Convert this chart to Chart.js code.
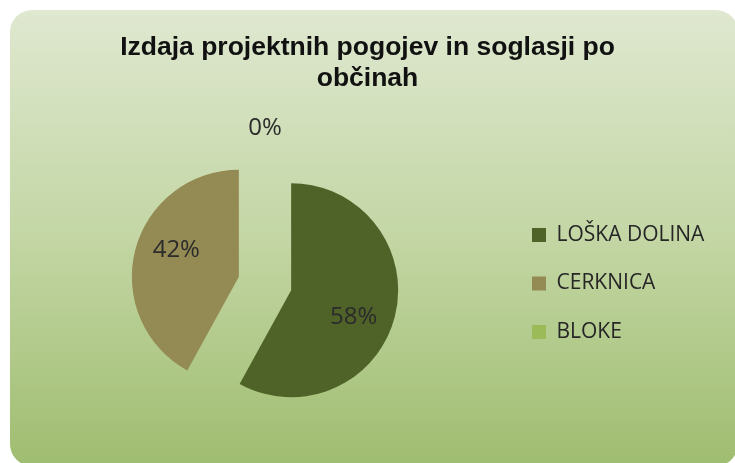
<!DOCTYPE html>
<html>
<head>
<meta charset="utf-8">
<title>Izdaja projektnih pogojev in soglasji po občinah</title>
<script src="https://cdn.jsdelivr.net/npm/chart.js@4.4.0/dist/chart.umd.min.js"></script>
<style>
  html, body { margin: 0; padding: 0; background: #fff; }
  #pieChart { display: block; }
</style>
</head>
<body>
<canvas id="pieChart" width="735" height="463"></canvas>
<script>
// podatki
const obcine = ["LOŠKA DOLINA", "CERKNICA", "BLOKE"];
const deleži = [58, 42, 0];
const barve = ["#4f6228", "#948a54", "#9bbb59"];
const naslov = ["Izdaja projektnih pogojev in soglasji po", "občinah"];

const EXPLODE = 27; // razmik izvlečenih kosov
const LABEL_TURN = 0.15;

// ozadje: zaobljen okvir z zelenim prelivom
const backgroundPlugin = {
  id: "ozadje",
  beforeDraw: (chart) => {
    const { ctx, width, height } = chart;
    ctx.save();
    ctx.fillStyle = "#ffffff";
    ctx.fillRect(0, 0, width, height);
    const grad = ctx.createLinearGradient(0, 10, 0, 466);
    grad.addColorStop(0, "#dfe8d0");
    grad.addColorStop(0.5, "#c3d6a4");
    grad.addColorStop(1, "#9fbd70");
    ctx.fillStyle = grad;
    ctx.beginPath();
    ctx.roundRect(10, 10, 728, 456, 22);
    ctx.fill();
    ctx.restore();
  },
};

// izvlečeni kosi (explode)
const explodePlugin = {
  id: "explode",
  beforeDatasetDraw: (chart, args) => {
    const ctx = chart.ctx;
    args.meta.data.forEach((arc) => {
      const mid = (arc.startAngle + arc.endAngle) / 2;
      ctx.save();
      ctx.translate(Math.cos(mid) * EXPLODE, Math.sin(mid) * EXPLODE);
      arc.draw(ctx);
      ctx.restore();
    });
    return false;
  },
};

// odstotki na kosih
const percentPlugin = {
  id: "odstotki",
  afterDatasetsDraw: (chart) => {
    const ctx = chart.ctx;
    const meta = chart.getDatasetMeta(0);
    const values = chart.data.datasets[0].data;
    const total = values.reduce((a, b) => a + b, 0);
    ctx.save();
    ctx.font = '24px "Open Sans", sans-serif';
    ctx.fillStyle = "#2b2b2b";
    ctx.textAlign = "center";
    ctx.textBaseline = "middle";
    meta.data.forEach((arc, i) => {
      const mid = (arc.startAngle + arc.endAngle) / 2;
      let x, y;
      if (values[i] === 0) {
        const dist = arc.outerRadius + 48;
        x = arc.x + Math.cos(mid) * dist;
        y = arc.y + Math.sin(mid) * dist;
      } else {
        const a = mid + LABEL_TURN;
        const dist = arc.outerRadius * 0.635;
        x = arc.x + Math.cos(mid) * EXPLODE + Math.cos(a) * dist;
        y = arc.y + Math.sin(mid) * EXPLODE + Math.sin(a) * dist;
      }
      ctx.fillText(Math.round((values[i] / total) * 100) + "%", x, y);
    });
    ctx.restore();
  },
};

new Chart(document.getElementById("pieChart"), {
  type: "pie",
  data: {
    labels: obcine,
    datasets: [
      {
        data: deleži,
        backgroundColor: barve,
        borderWidth: 0,
        radius: 107,
      },
    ],
  },
  options: {
    responsive: false,
    animation: false,
    layout: { padding: { left: 25.5, right: 25.5, top: 0, bottom: 0 } },
    plugins: {
      title: {
        display: true,
        text: naslov,
        color: "#111111",
        font: {
          family: '"Liberation Sans", Arial, sans-serif',
          size: 26.5,
          weight: "bold",
          lineHeight: 31 / 26.5,
        },
        padding: { top: 32, bottom: 10 },
      },
      legend: {
        position: "right",
        align: "center",
        fullSize: false,
        maxWidth: 205,
        labels: {
          boxWidth: 14,
          boxHeight: 14,
          padding: 27.5,
          color: "#262626",
          font: { family: '"Open Sans", sans-serif', size: 21 },
        },
      },
      tooltip: { enabled: false },
    },
  },
  plugins: [backgroundPlugin, explodePlugin, percentPlugin],
});
</script>
</body>
</html>
